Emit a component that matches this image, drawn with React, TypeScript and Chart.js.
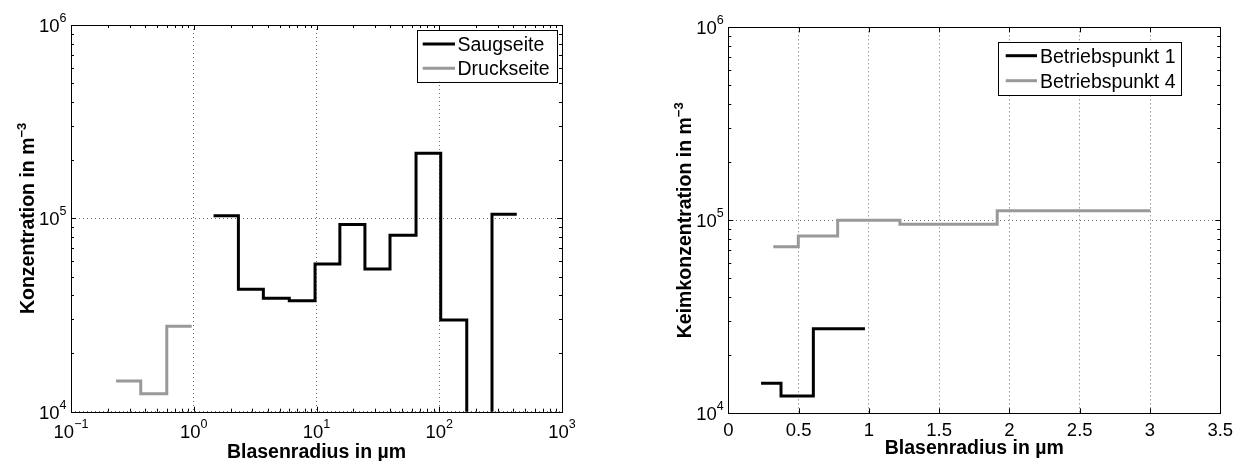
import React, { useEffect, useRef } from 'react';
import { Chart, registerables } from 'chart.js';

Chart.register(...registerables);

// ---------------- data ----------------
// Left panel: bin edges (µm) and concentrations (m^-3)
const saugEdges = [1.45, 2.31, 3.69, 6.0, 9.73, 15.5, 24.8, 39.7, 64.7, 102.8, 167.5, 269, 428];
const saugValues = [1.03e5, 4.3e4, 3.86e4, 3.75e4, 5.8e4, 9.3e4, 5.47e4, 8.17e4, 2.17e5, 2.98e4, 1e3, 1.05e5]; // 1e3 = below axis (empty bin)
const druckEdges = [0.233, 0.37, 0.603, 0.962];
const druckValues = [1.44e4, 1.24e4, 2.77e4];

// Right panel
const bp1Edges = [0.233, 0.375, 0.605, 0.972];
const bp1Values = [1.43e4, 1.23e4, 2.74e4];
const bp4Edges = [0.32, 0.498, 0.778, 1.221, 1.913, 3.004];
const bp4Values = [7.3e4, 8.3e4, 1.0e5, 9.53e4, 1.12e5];

// Tick values and labels
const logXTicks = [0.1, 1, 10, 100, 1000];
const logXExponents = ['−1', '0', '1', '2', '3'];
const logYTicks = [1e4, 1e5, 1e6];
const logYExponents = ['4', '5', '6'];
const linXTicks = [0, 0.5, 1, 1.5, 2, 2.5, 3, 3.5];
const linXLabels = ['0', '0.5', '1', '1.5', '2', '2.5', '3', '3.5'];

const leftLabels = ['Saugseite', 'Druckseite'];
const rightLabels = ['Betriebspunkt 1', 'Betriebspunkt 4'];
const xTitle = 'Blasenradius in µm';
const leftYTitle = 'Konzentration in m';
const rightYTitle = 'Keimkonzentration in m';
const yTitleExp = '−3';

// ---------------- helpers ----------------
const FONT = '"Liberation Sans", Arial, Helvetica, sans-serif';
const BLACK = '#000000';
const GRAY = '#999999';
const TITLE_SIZE = 19.5;
const LEGEND_SIZE = 19.5;

type Part = { text: string; size: number; bold?: boolean; rise?: number };

function stepPoints(edges: number[], values: number[]) {
  const pts = values.map((v, i) => ({ x: edges[i], y: v }));
  pts.push({ x: edges[edges.length - 1], y: values[values.length - 1] });
  return pts;
}

function logMinor(loExp: number, hiExp: number) {
  const out: number[] = [];
  for (let k = loExp; k < hiExp; k++) {
    for (let m = 2; m <= 9; m++) out.push(m * Math.pow(10, k));
  }
  return out;
}

function fontOf(p: Part) {
  return `${p.bold ? 'bold ' : ''}${p.size}px ${FONT}`;
}

function richWidth(ctx: CanvasRenderingContext2D, parts: Part[]) {
  let w = 0;
  for (const p of parts) {
    ctx.font = fontOf(p);
    w += ctx.measureText(p.text).width;
  }
  return w;
}

function drawRich(ctx: CanvasRenderingContext2D, parts: Part[], x: number, y: number, align: 'left' | 'center' | 'right') {
  const w = richWidth(ctx, parts);
  let cx = align === 'left' ? x : align === 'center' ? x - w / 2 : x - w;
  ctx.textAlign = 'left';
  ctx.textBaseline = 'alphabetic';
  ctx.fillStyle = BLACK;
  for (const p of parts) {
    ctx.font = fontOf(p);
    ctx.fillText(p.text, cx, y - (p.rise || 0));
    cx += ctx.measureText(p.text).width;
  }
}

type Spec = {
  xMajor: number[];
  xMinor: number[];
  yMajor: number[];
  yMinor: number[];
  xLabels: { value: number; parts: Part[] }[];
  yLabels: { value: number; parts: Part[] }[];
  xLabelBaseline: number;
  xTitleBaseline: number;
  yTitleOffset: number;
  yTitleParts: Part[];
  legend: { x: number; y: number; w: number; h: number; lineX0: number; lineX1: number; rows: number[]; textX: number };
};

function makePlugin(spec: Spec) {
  return {
    id: 'matlabFrame',
    afterDraw(chart: any) {
      const ctx: CanvasRenderingContext2D = chart.ctx;
      const a = chart.chartArea;
      const xs = chart.scales.x;
      const ys = chart.scales.y;
      ctx.save();
      ctx.strokeStyle = BLACK;
      ctx.lineWidth = 1;
      ctx.beginPath();
      const xTick = (v: number, len: number) => {
        const px = Math.round(xs.getPixelForValue(v)) + 0.5;
        ctx.moveTo(px, a.bottom);
        ctx.lineTo(px, a.bottom - len);
        ctx.moveTo(px, a.top);
        ctx.lineTo(px, a.top + len);
      };
      const yTick = (v: number, len: number) => {
        const py = Math.round(ys.getPixelForValue(v)) + 0.5;
        ctx.moveTo(a.left, py);
        ctx.lineTo(a.left + len, py);
        ctx.moveTo(a.right, py);
        ctx.lineTo(a.right - len, py);
      };
      spec.xMajor.forEach((v) => xTick(v, 5));
      spec.xMinor.forEach((v) => xTick(v, 3));
      spec.yMajor.forEach((v) => yTick(v, 5));
      spec.yMinor.forEach((v) => yTick(v, 3));
      ctx.stroke();
      ctx.strokeRect(Math.round(a.left) + 0.5, Math.round(a.top) + 0.5, Math.round(a.right - a.left), Math.round(a.bottom - a.top));

      for (const l of spec.xLabels) {
        drawRich(ctx, l.parts, xs.getPixelForValue(l.value), a.bottom + spec.xLabelBaseline, 'center');
      }
      for (const l of spec.yLabels) {
        drawRich(ctx, l.parts, a.left - 4.5, ys.getPixelForValue(l.value) + 7, 'right');
      }
      drawRich(ctx, [{ text: xTitle, size: TITLE_SIZE, bold: true }], (a.left + a.right) / 2, a.bottom + spec.xTitleBaseline, 'center');
      ctx.save();
      ctx.translate(a.left - spec.yTitleOffset, (a.top + a.bottom) / 2);
      ctx.rotate(-Math.PI / 2);
      drawRich(ctx, spec.yTitleParts, 0, 0, 'center');
      ctx.restore();

      const lg = spec.legend;
      ctx.fillStyle = '#ffffff';
      ctx.fillRect(lg.x, lg.y, lg.w, lg.h);
      ctx.strokeStyle = BLACK;
      ctx.lineWidth = 1;
      ctx.strokeRect(Math.round(lg.x) + 0.5, Math.round(lg.y) + 0.5, Math.round(lg.w), Math.round(lg.h));
      chart.data.datasets.forEach((ds: any, i: number) => {
        const y = lg.rows[i];
        ctx.strokeStyle = ds.borderColor;
        ctx.lineWidth = 3;
        ctx.beginPath();
        ctx.moveTo(lg.lineX0, y);
        ctx.lineTo(lg.lineX1, y);
        ctx.stroke();
        drawRich(ctx, [{ text: ds.label, size: LEGEND_SIZE }], lg.textX, y + 7, 'left');
      });
      ctx.restore();
    },
  };
}

function makeConfig(opts: {
  datasets: any[];
  xType: 'logarithmic' | 'linear';
  xMin: number;
  xMax: number;
  xTicks: number[];
  yTicks: number[];
  padRight: number;
  padTop: number;
  yWidth: number;
  xHeight: number;
  spec: Spec;
}): any {
  return {
    type: 'line',
    data: { datasets: opts.datasets },
    plugins: [makePlugin(opts.spec)],
    options: {
      responsive: false,
      animation: false,
      events: [],
      layout: { padding: { left: 0, right: opts.padRight, top: opts.padTop, bottom: 0 } },
      plugins: { legend: { display: false }, tooltip: { enabled: false } },
      elements: { point: { radius: 0 }, line: { borderWidth: 3, stepped: true, tension: 0 } },
      scales: {
        x: {
          type: opts.xType,
          min: opts.xMin,
          max: opts.xMax,
          afterBuildTicks: (s: any) => {
            s.ticks = opts.xTicks.map((v) => ({ value: v }));
          },
          afterFit: (s: any) => {
            s.height = opts.xHeight;
          },
          ticks: { display: false },
          grid: { color: '#6f6f6f', lineWidth: 1, drawTicks: false },
          border: { display: false, dash: [1, 3] },
        },
        y: {
          type: 'logarithmic',
          min: 1e4,
          max: 1e6,
          afterBuildTicks: (s: any) => {
            s.ticks = opts.yTicks.map((v) => ({ value: v }));
          },
          afterFit: (s: any) => {
            s.width = opts.yWidth;
          },
          ticks: { display: false },
          grid: { color: '#6f6f6f', lineWidth: 1, drawTicks: false },
          border: { display: false, dash: [1, 3] },
        },
      },
    },
  };
}

const powParts = (exp: string): Part[] => [
  { text: '10', size: 18.5 },
  { text: exp, size: 12.5, rise: 10 },
];

function leftConfig() {
  const spec: Spec = {
    xMajor: logXTicks,
    xMinor: logMinor(-1, 3),
    yMajor: logYTicks,
    yMinor: logMinor(4, 6),
    xLabels: logXTicks.map((v, i) => ({ value: v, parts: powParts(logXExponents[i]) })),
    yLabels: logYTicks.map((v, i) => ({ value: v, parts: powParts(logYExponents[i]) })),
    xLabelBaseline: 26.7,
    xTitleBaseline: 46.6,
    yTitleOffset: 37,
    yTitleParts: [
      { text: leftYTitle, size: TITLE_SIZE, bold: true },
      { text: yTitleExp, size: 13, bold: true, rise: 8 },
    ],
    legend: { x: 416.7, y: 30, w: 139.5, h: 51.7, lineX0: 422.7, lineX1: 455, rows: [44, 68.3], textX: 457.5 },
  };
  return makeConfig({
    datasets: [
      { label: leftLabels[0], data: stepPoints(saugEdges, saugValues), borderColor: BLACK, backgroundColor: BLACK },
      { label: leftLabels[1], data: stepPoints(druckEdges, druckValues), borderColor: GRAY, backgroundColor: GRAY },
    ],
    xType: 'logarithmic',
    xMin: 0.1,
    xMax: 1000,
    xTicks: logXTicks,
    yTicks: logYTicks,
    padRight: 59,
    padTop: 25,
    yWidth: 71,
    xHeight: 49.3,
    spec,
  });
}

function rightConfig() {
  const spec: Spec = {
    xMajor: linXTicks,
    xMinor: [],
    yMajor: logYTicks,
    yMinor: logMinor(4, 6),
    xLabels: linXTicks.map((v, i) => ({ value: v, parts: [{ text: linXLabels[i], size: 18.5 }] })),
    yLabels: logYTicks.map((v, i) => ({ value: v, parts: powParts(logYExponents[i]) })),
    xLabelBaseline: 23,
    xTitleBaseline: 40.7,
    yTitleOffset: 37,
    yTitleParts: [
      { text: rightYTitle, size: TITLE_SIZE, bold: true },
      { text: yTitleExp, size: 13, bold: true, rise: 8 },
    ],
    legend: { x: 377.3, y: 42.3, w: 183, h: 53.4, lineX0: 384.7, lineX1: 416, rows: [55.7, 80.7], textX: 419 },
  };
  return makeConfig({
    datasets: [
      { label: rightLabels[0], data: stepPoints(bp1Edges, bp1Values), borderColor: BLACK, backgroundColor: BLACK },
      { label: rightLabels[1], data: stepPoints(bp4Edges, bp4Values), borderColor: GRAY, backgroundColor: GRAY },
    ],
    xType: 'linear',
    xMin: 0,
    xMax: 3.5,
    xTicks: linXTicks,
    yTicks: logYTicks,
    padRight: 21.7,
    padTop: 27.3,
    yWidth: 107.3,
    xHeight: 47.7,
    spec,
  });
}

export default function App() {
  const leftRef = useRef<HTMLCanvasElement>(null);
  const rightRef = useRef<HTMLCanvasElement>(null);
  useEffect(() => {
    const c1 = new Chart(leftRef.current as HTMLCanvasElement, leftConfig());
    const c2 = new Chart(rightRef.current as HTMLCanvasElement, rightConfig());
    return () => {
      c1.destroy();
      c2.destroy();
    };
  }, []);
  return (
    <div style={{ position: 'fixed', left: 0, top: 0, width: 1242, height: 461, background: '#ffffff' }}>
      <canvas ref={leftRef} width={621} height={461} style={{ position: 'absolute', left: 0, top: 0, width: 621, height: 461 }} />
      <canvas ref={rightRef} width={621} height={461} style={{ position: 'absolute', left: 621, top: 0, width: 621, height: 461 }} />
    </div>
  );
}
